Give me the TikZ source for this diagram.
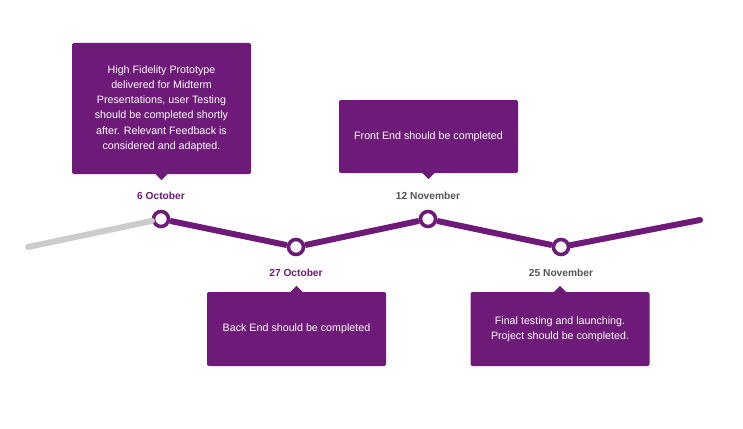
\documentclass[tikz,border=0pt]{standalone}
\usepackage{fontspec}
\setmainfont{Liberation Sans}
\usetikzlibrary{positioning}
\definecolor{plum}{HTML}{6E1A78}
\definecolor{slate}{HTML}{555555}
\definecolor{track}{HTML}{CCCCCC}

\begin{document}
\begin{tikzpicture}[x=1pt,y=-1pt]
\tikzset{milestone/.style={circle,draw=plum,line width=3.6pt,fill=white,minimum size=15pt,inner sep=0pt},
  notebox/.style={fill=plum,text=white,rounded corners=2pt,minimum width=179pt,align=center,font=\fontsize{10.7}{15.2}\selectfont},
  datelabel/.style={font=\bfseries\fontsize{10.2}{12}\selectfont}}

    \useasboundingbox (0,0) rectangle (743,428);

    % timeline points
    \coordinate (start) at (28,247);
    \coordinate (end) at (700,220);
    \node[milestone] (oct6) at (161,219) {};
    \node[milestone] (oct27) at (296,247) {};
    \node[milestone] (nov12) at (428,219) {};
    \node[milestone] (nov25) at (561,247) {};

    \draw[track, line width=6pt, line cap=round] (start) -- (oct6);
    \draw[plum, line width=6pt] (oct6) -- (oct27);
    \draw[plum, line width=6pt] (oct27) -- (nov12);
    \draw[plum, line width=6pt] (nov12) -- (nov25);
    \draw[plum, line width=6pt, line cap=round] (nov25) -- (end);

    % dates
    \node[datelabel, text=plum] (d1) at (161,196) {6 October};
    \node[datelabel, text=plum] (d2) at (296,273) {27 October};
    \node[datelabel, text=slate] (d3) at (428,196) {12 November};
    \node[datelabel, text=slate] (d4) at (561,273) {25 November};

    % notes
    \node[notebox, minimum height=131pt] (note1) at (161.5,108.5) {High Fidelity Prototype\\delivered for Midterm\\Presentations, user Testing\\should be completed shortly\\after. Relevant Feedback is\\considered and adapted.};
    \fill[plum] ([xshift=-6pt]note1.south) -- ([xshift=6pt]note1.south) -- ([yshift=-6pt]note1.south) -- cycle;

    \node[notebox, minimum height=73pt] (note2) at (428.5,136.5) {Front End should be completed};
    \fill[plum] ([xshift=-6pt]note2.south) -- ([xshift=6pt]note2.south) -- ([yshift=-6pt]note2.south) -- cycle;

    \node[notebox, minimum height=74pt] (note3) at (296.5,329) {Back End should be completed};
    \fill[plum] ([xshift=-6pt]note3.north) -- ([xshift=6pt]note3.north) -- ([yshift=6pt]note3.north) -- cycle;

    \node[notebox, minimum height=74pt] (note4) at (560,329) {Final testing and launching.\\Project should be completed.};
    \fill[plum] ([xshift=-6pt]note4.north) -- ([xshift=6pt]note4.north) -- ([yshift=6pt]note4.north) -- cycle;
\end{tikzpicture}
\end{document}
